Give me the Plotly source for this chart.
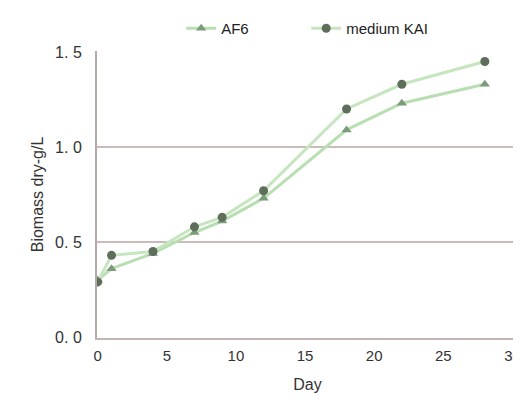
import plotly.graph_objects as go

days_af6 = [0, 1, 4, 7, 9, 12, 18, 22, 28]
af6 = [0.30, 0.36, 0.44, 0.55, 0.61, 0.73, 1.09, 1.23, 1.33]
days_kai = [0, 1, 4, 7, 9, 12, 18, 22, 28]
kai = [0.29, 0.43, 0.45, 0.58, 0.63, 0.77, 1.20, 1.33, 1.45]

y_ticks = [0.0, 0.5, 1.0, 1.5]
y_ticktext = ["0. 0", "0. 5", "1. 0", "1. 5"]
x_ticks = [0, 5, 10, 15, 20, 25, 30]

fig = go.Figure()
fig.add_trace(go.Scatter(
    x=days_af6, y=af6, name="AF6", mode="lines+markers",
    line=dict(color="#b8dfb2", width=3),
    marker=dict(symbol="triangle-up", size=9, color="#7e9a7c"),
))
fig.add_trace(go.Scatter(
    x=days_kai, y=kai, name="medium KAI", mode="lines+markers",
    line=dict(color="#c6e6c0", width=3),
    marker=dict(symbol="circle", size=9, color="#5e6e5a"),
))

font = "Liberation Sans, Arial, sans-serif"
fig.update_layout(
    width=521, height=403,
    margin=dict(l=89, r=11, t=43, b=73),
    paper_bgcolor="white", plot_bgcolor="white",
    font=dict(family=font, size=14, color="#333333"),
    showlegend=True,
    legend=dict(orientation="h", x=0.2, y=0.99, xanchor="left", yanchor="top",
                yref="container",
                font=dict(size=15, color="#222222"), bgcolor="rgba(0,0,0,0)",
                entrywidth=80, entrywidthmode="pixels", tracegroupgap=0),
    xaxis=dict(range=[-0.05, 30.4], tickvals=x_ticks, showgrid=False, zeroline=False,
               showline=True, linecolor="#c4b4b4", linewidth=2, ticks="",
               automargin=False, ticklabelstandoff=3,
               tickfont=dict(size=15, color="#333333"),
               title=dict(text="Day", font=dict(size=16, color="#333333"), standoff=16)),
    yaxis=dict(range=[-0.005, 1.505], tickvals=y_ticks, ticktext=y_ticktext,
               showgrid=True, gridcolor="#cbbcbc", gridwidth=2, zeroline=False,
               showline=True, linecolor="#b8a8a8", linewidth=2, ticks="",
               automargin=False, ticklabelstandoff=10,
               tickfont=dict(size=16, color="#333333"),
               title=dict(text="Biomass dry-g/L", font=dict(size=16, color="#333333"), standoff=8)),
)
fig.write_html("out.html")
